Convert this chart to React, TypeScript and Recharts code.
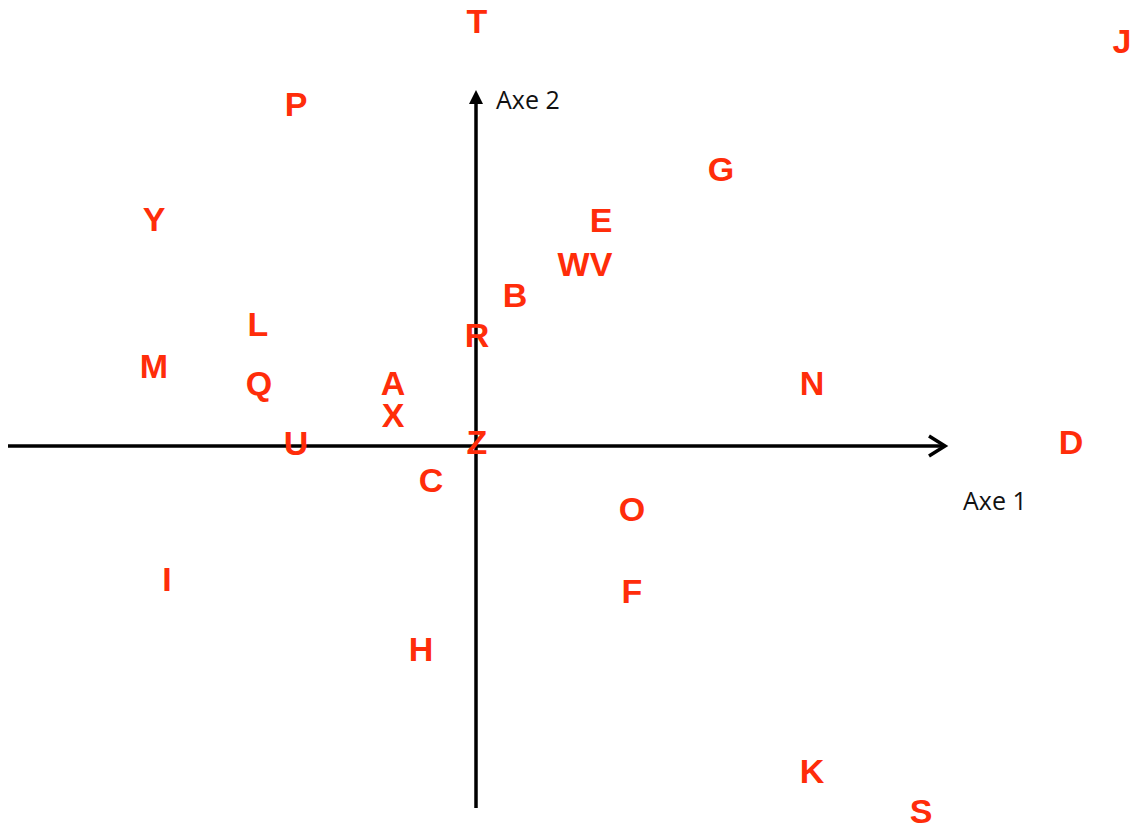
import { ScatterChart, Scatter, XAxis, YAxis, ReferenceLine } from "recharts";

// letters on the factorial plane, axis 1 / axis 2 coordinates
const labels = ["T", "J", "P", "G", "Y", "E", "WV", "B", "L", "R", "M", "Q", "A", "N", "X", "U", "Z", "D", "C", "O", "F", "I", "H", "K", "S"];
const axe1 = [0.02, 12.92, -3.6, 4.9, -6.44, 2.5, 2.18, 0.78, -4.36, 0.02, -6.44, -4.34, -1.66, 6.72, -1.66, -3.6, 0.02, 11.9, -0.9, 3.12, 3.12, -6.18, -1.1, 6.72, 8.9];
const axe2 = [8.5, 8.1, 6.84, 5.54, 4.54, 4.52, 3.64, 3.02, 2.44, 2.22, 1.6, 1.26, 1.26, 1.26, 0.62, 0.06, 0.08, 0.08, -0.68, -1.26, -2.9, -2.66, -4.06, -6.5, -7.3];

const axisX = [-9.36, 9.38];
const axisY = [-7.24, 7.12];

const points = labels.map((name, i) => ({ name, x: axe1[i], y: axe2[i] }));

const RED = "#ff2d0a";

const Letter = (props: any) => {
  const { cx, cy, payload } = props;
  return (
    <text
      x={cx}
      y={cy}
      dy="0.36em"
      textAnchor="middle"
      fill={RED}
      fontFamily="'Liberation Sans', Arial, sans-serif"
      fontWeight="bold"
      fontSize={34}
    >
      {payload.name}
    </text>
  );
};

const HorizontalAxis = (props: any) => {
  const { x1, y1, x2, y2 } = props;
  return (
    <g>
      <line x1={x1} y1={y1} x2={x2} y2={y2} stroke="#000" strokeWidth={3.5} />
      <polyline
        points={`${x2 - 16},${y2 - 10} ${x2},${y2} ${x2 - 16},${y2 + 10}`}
        fill="none"
        stroke="#000"
        strokeWidth={3.5}
      />
      <text x={x2 + 18} y={y2 + 64} fontFamily="'Open Sans', sans-serif" fontSize={25} fill="#111">
        Axe 1
      </text>
    </g>
  );
};

const VerticalAxis = (props: any) => {
  const { x1, y1, x2, y2 } = props;
  const top = Math.min(y1, y2);
  const bottom = Math.max(y1, y2);
  return (
    <g>
      <line x1={x1} y1={bottom} x2={x2} y2={top + 8} stroke="#000" strokeWidth={3.5} />
      <polygon points={`${x1 - 7},${top + 14} ${x1},${top} ${x1 + 7},${top + 14}`} fill="#000" />
      <text x={x1 + 20} y={top + 19} fontFamily="'Open Sans', sans-serif" fontSize={25} fill="#111">
        Axe 2
      </text>
    </g>
  );
};

export default function App() {
  return (
    <div style={{ position: "absolute", left: 0, top: 0, background: "#fff" }}>
      <ScatterChart width={1140} height={825} margin={{ top: 0, right: 0, bottom: 0, left: 0 }}>
        <XAxis type="number" dataKey="x" hide domain={[-9.52, 13.28]} allowDataOverflow />
        <YAxis type="number" dataKey="y" hide domain={[-7.58, 8.92]} allowDataOverflow />
        <ReferenceLine
          segment={[
            { x: axisX[0], y: 0 },
            { x: axisX[1], y: 0 },
          ]}
          shape={HorizontalAxis}
          ifOverflow="visible"
        />
        <ReferenceLine
          segment={[
            { x: 0, y: axisY[0] },
            { x: 0, y: axisY[1] },
          ]}
          shape={VerticalAxis}
          ifOverflow="visible"
        />
        <Scatter data={points} shape={Letter} isAnimationActive={false} />
      </ScatterChart>
    </div>
  );
}
